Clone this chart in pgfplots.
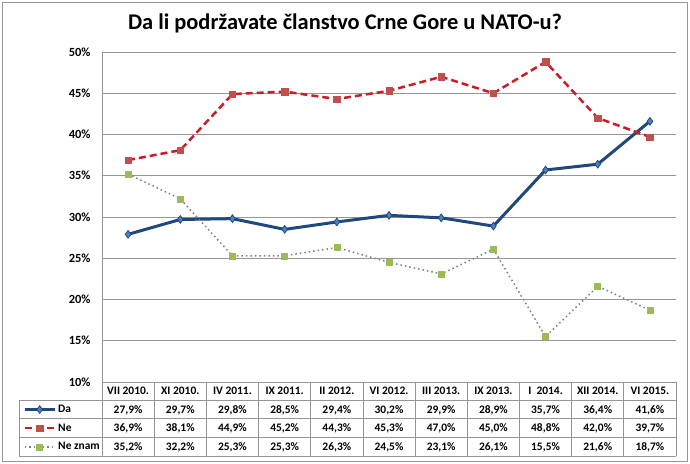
\documentclass[border=0pt]{standalone}
\usepackage{pgfplots}
\pgfplotsset{compat=1.18}
\usepackage{pgfplotstable}
\usepackage{fontspec}
\setmainfont{Carlito}
\definecolor{dablue}{RGB}{31,73,125}
\definecolor{dafill}{RGB}{79,129,189}
\definecolor{nered}{RGB}{200,30,40}
\definecolor{nefill}{RGB}{192,80,77}
\definecolor{nzgray}{RGB}{128,128,128}
\definecolor{nzfill}{RGB}{155,187,89}
\definecolor{gridgray}{RGB}{150,150,150}
\definecolor{bordergray}{RGB}{150,150,150}

\pgfplotstableread{
i Da Ne NZ
0 27.9 36.9 35.2
1 29.7 38.1 32.2
2 29.8 44.9 25.3
3 28.5 45.2 25.3
4 29.4 44.3 26.3
5 30.2 45.3 24.5
6 29.9 47.0 23.1
7 28.9 45.0 26.1
8 35.7 48.8 15.5
9 36.4 42.0 21.6
10 41.6 39.7 18.7
}\data

\newcommand{\tabfont}{\fontsize{11.5}{13}\selectfont\bfseries}

\begin{document}
\begin{tikzpicture}[x=1bp,y=1bp]
\path[use as bounding box] (0,0) rectangle (690,-464);
\draw[bordergray, line width=1bp] (2.5,-2.5) rectangle (687.5,-461.5);
\node[font=\fontsize{22.5}{26}\selectfont\bfseries] at (345,-23) {Da li podržavate članstvo Crne Gore u NATO-u?};

\begin{axis}[
  at={(102bp,-382bp)}, anchor=south west,
  scale only axis, width=574bp, height=330bp,
  xmin=-0.5, xmax=10.5, ymin=10, ymax=50,
  ytick={10,15,...,50},
  xtick={0,...,10},
  xticklabels={VII 2010.,XI 2010.,IV 2011.,IX 2011.,II 2012.,VI 2012.,III 2013.,IX 2013.,I\ \ 2014.,XII 2014.,VI 2015.},
  axis line style={draw=none},
  major tick length=0pt,
  ymajorgrids,
  grid style={gridgray, line width=0.8bp},
  yticklabel={\pgfmathprintnumber[assume math mode=true]{\tick}\%},
  yticklabel style={font=\fontsize{12.5}{14}\selectfont\bfseries, xshift=-8bp},
  xticklabel style={font=\tabfont, anchor=center, yshift=-9bp},
  clip=false,
  legend cell align=left,
  legend image code/.code={\draw[mark repeat=2,mark phase=2] plot coordinates {(0bp,0bp)(15bp,0bp)(30bp,0bp)};},
  legend style={at={(axis description cs:-0.1376,-0.05455)}, anchor=north west,
     draw=none, fill=none, inner sep=0pt, row sep=0pt, column sep=2bp,
     font=\tabfont, nodes={inner sep=0pt, minimum height=18.67bp}},
]
\addplot[color=dablue, line width=3bp, mark=diamond*, mark size=3.8bp,
  mark options={fill=dafill, draw=dablue, line width=0.8bp, solid}]
  table[x=i,y=Da]{\data};
\addlegendentry{Da}
\addplot[color=nered, line width=2.5bp, dash pattern=on 7bp off 4bp, mark=square*, mark size=3.2bp,
  mark options={fill=nefill, draw=nefill, line width=0.5bp, solid}]
  table[x=i,y=Ne]{\data};
\addlegendentry{Ne}
\addplot[color=nzgray, line width=1.5bp, dash pattern=on 1.5bp off 3bp, mark=square*, mark size=3bp,
  mark options={fill=nzfill, draw=nzfill, line width=0.5bp, solid}]
  table[x=i,y=NZ]{\data};
\addlegendentry{Ne znam}
\end{axis}

\begin{scope}[draw=gridgray, line width=0.8bp]
\draw (102,-52) -- (102,-456);
\draw (102,-382) -- (676,-382);
\foreach \y in {-400,-418.67,-437.33,-456} \draw (19,\y) -- (676,\y);
\draw (19,-400) -- (19,-456);
\foreach \k in {1,...,11} \draw ({102+52.1818*\k},-382) -- ({102+52.1818*\k},-456);
\end{scope}

\foreach \i in {0,...,10} {
  \foreach \col/\yy in {Da/-409.33,Ne/-428,NZ/-446.67} {
    \pgfplotstablegetelem{\i}{\col}\of\data
    \node[font=\tabfont, inner sep=0pt, text height=7.4bp, text depth=0pt]
      at ({102+52.1818*(\i+0.5)},\yy)
      {\pgfmathprintnumber[fixed,fixed zerofill,precision=1,use comma,assume math mode=true]{\pgfplotsretval}\%};
  }
}
\end{tikzpicture}
\end{document}
